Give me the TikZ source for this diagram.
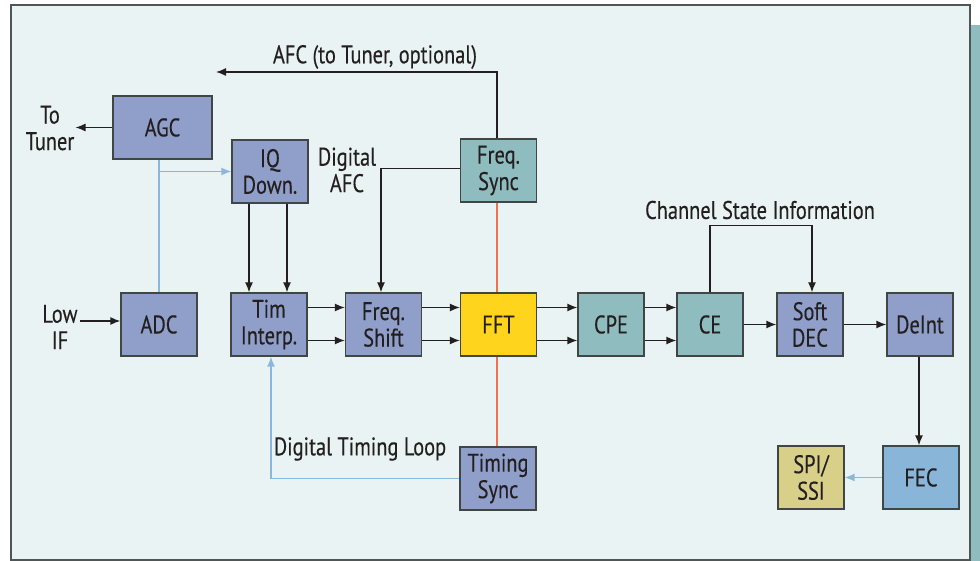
\documentclass[tikz,border=0pt]{standalone}
\usepackage{fontspec}
\setmainfont[FakeStretch=0.8,FakeBold=0.3]{PT Sans}
\usetikzlibrary{arrows.meta,calc}
\definecolor{bgc}{HTML}{E9F3F4}
\definecolor{framec}{HTML}{505555}
\definecolor{purp}{HTML}{8F9FC9}
\definecolor{teal}{HTML}{8FBCBE}
\definecolor{yel}{HTML}{FFD41C}
\definecolor{fecc}{HTML}{88B5D8}
\definecolor{spic}{HTML}{D8D089}
\definecolor{bline}{HTML}{8AB8DC}
\definecolor{rline}{HTML}{F07050}
\definecolor{txt}{HTML}{231F20}
\definecolor{edge}{HTML}{404545}
\tikzset{
  blk/.style={draw=edge,line width=1.3pt,minimum height=63pt,inner sep=0pt,align=center,text=txt,font=\fontsize{25.5}{26.5}\selectfont},
  w76/.style={minimum width=76pt},
  w66/.style={minimum width=66pt},
  lbl/.style={text=txt,align=center,inner sep=1pt,font=\fontsize{25.5}{26.5}\selectfont},
  arr/.style={draw=txt,line width=1.3pt,-{Latex[length=10pt,width=8pt]}},
  barr/.style={draw=bline,line width=1.4pt,-{Latex[length=10pt,width=8pt]}},
  bln/.style={draw=bline,line width=1.4pt},
  rln/.style={draw=rline,line width=1.3pt},
}
\begin{document}
\begin{tikzpicture}[x=1pt,y=-1pt]
\useasboundingbox (0,0) rectangle (980,561);
\fill[teal] (971,25) rectangle (980,561);
\draw[fill=bgc,draw=framec,line width=1.6pt] (11,5) rectangle (970,560);
% red line behind
\coordinate (rtop) at (497,202);
\coordinate (rbot) at (497,447);
\draw[rln] (rtop) -- (rbot);
% blocks
\node[blk,fill=purp,minimum width=99pt] (agc) at (162.5,127.5) {AGC};
\node[blk,w76,fill=purp] (iq) at (270,171.5) {IQ\\Down.};
\node[blk,w76,fill=purp] (adc) at (159,324.5) {ADC};
\node[blk,w76,fill=purp] (tim) at (269,324.5) {Tim\\Interp.};
\node[blk,w76,fill=purp] (fsh) at (383.5,324.5) {Freq.\\Shift};
\node[blk,w76,fill=yel] (fft) at (498.5,324.5) {FFT};
\node[blk,w66,fill=teal] (cpe) at (611,324.5) {CPE};
\node[blk,w66,fill=teal] (ce) at (710,324.5) {CE};
\node[blk,w66,fill=purp] (soft) at (810,324.5) {Soft\\DEC};
\node[blk,w66,fill=purp] (deint) at (920,324.5) {DeInt};
\node[blk,w76,fill=teal] (fsync) at (498.5,170.5) {Freq.\\Sync};
\node[blk,w76,fill=purp] (tsync) at (498,478.5) {Timing\\Sync};
\node[blk,w76,fill=fecc] (fec) at (921,477.5) {FEC};
\node[blk,w66,fill=spic] (spi) at (811,477.5) {SPI/\\SSI};
% labels
\node[lbl] (totuner) at (50,128) {To\\Tuner};
\node[lbl] (lowif) at (60,327) {Low\\IF};
\node[lbl] (afclbl) at (375,57) {AFC (to Tuner, optional)};
\node[lbl] (dafc) at (347,170) {Digital\\AFC};
\node[lbl] (csi) at (760,210) {Channel State Information};
\node[lbl] (dtl) at (360,449) {Digital Timing Loop};
\coordinate (afcend) at (216,72);
\coordinate (lowstart) at (80,321);
% connectors
\draw[arr] (agc.west) -- (agc.west -| totuner.east);
\draw[arr] (lowstart) -- (lowstart -| adc.west);
\draw[bln] (adc.north) -- (adc.north |- agc.south);
\draw[barr] (adc.north |- iq.west) -- (iq.west);
\draw[arr] ([xshift=-21pt]iq.south) -- ([xshift=-21pt]iq.south |- tim.north);
\draw[arr] ([xshift=17pt]iq.south) -- ([xshift=17pt]iq.south |- tim.north);
\draw[arr] ([yshift=17pt]tim.east) -- ([yshift=17pt]fsh.west);
\draw[arr] ([yshift=-16pt]tim.east) -- ([yshift=-16pt]fsh.west);
\draw[arr] ([yshift=17pt]fsh.east) -- ([yshift=17pt]fft.west);
\draw[arr] ([yshift=-16pt]fsh.east) -- ([yshift=-16pt]fft.west);
\draw[arr] ([yshift=17pt]fft.east) -- ([yshift=17pt]cpe.west);
\draw[arr] ([yshift=-16pt]fft.east) -- ([yshift=-16pt]cpe.west);
\draw[arr] ([yshift=17pt]cpe.east) -- ([yshift=17pt]ce.west);
\draw[arr] ([yshift=-16pt]cpe.east) -- ([yshift=-16pt]ce.west);
\draw[arr] (ce.east) -- (soft.west);
\draw[arr] (soft.east) -- (deint.west);
\draw[arr] ([xshift=-1pt]deint.south) -- ([xshift=-1pt]deint.south |- fec.north);
\draw[barr] (fec.west) -- (spi.east);
\draw[arr] ([yshift=2pt]fsync.west) -| ([xshift=-2.5pt]fsh.north);
\draw[arr] ([xshift=-1.5pt]fsync.north) |- (afcend);
\draw[arr] (ce.north) -- ++(0,-67) -| ([xshift=2pt]soft.north);
\draw[barr] (tsync.west) -| ([xshift=2pt]tim.south);
\end{tikzpicture}
\end{document}
